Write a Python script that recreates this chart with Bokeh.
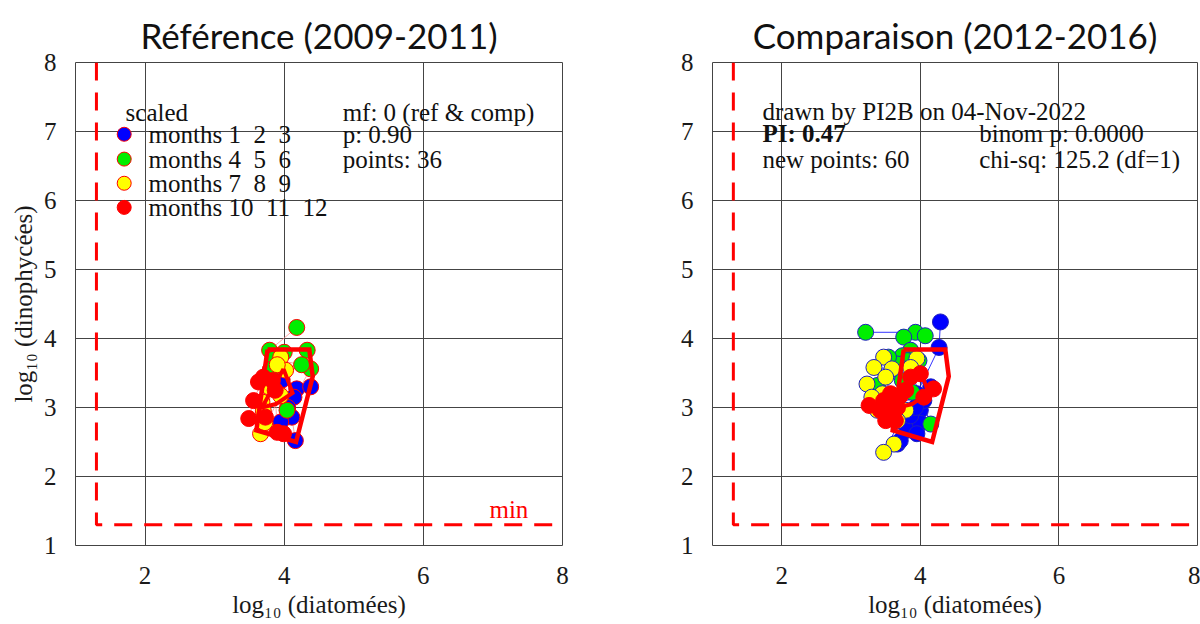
from bokeh.plotting import figure
from bokeh.layouts import row
from bokeh.models import Range1d, FixedTicker
from bokeh.core.properties import value
from bokeh.embed import file_html
from bokeh.resources import INLINE

# ---------------- data ----------------
titles = ["Référence (2009-2011)", "Comparaison (2012-2016)"]
x_label = "log₁₀ (diatomées)"
y_label = "log₁₀ (dinophycées)"
x_ticks = [2, 4, 6, 8]
y_ticks = [1, 2, 3, 4, 5, 6, 7, 8]
min_level = 1.301   # log10(20)
season_labels = ["months 1\u00a0 2\u00a0 3", "months 4\u00a0 5\u00a0 6",
                 "months 7\u00a0 8\u00a0 9", "months 10\u00a0 11\u00a0 12"]
season_colors = ["#0000ff", "#00ee00", "#ffff00", "#ff0000"]

# reference period (2009-2011), 9 points per season
ref_blue_x = [4.18, 4.38, 4.14, 4.11, 4.16, 3.95, 3.90, 4.05, 3.97]
ref_blue_y = [3.27, 3.30, 3.15, 2.86, 2.52, 2.79, 3.58, 3.00, 3.40]
ref_green_x = [4.18, 3.79, 4.33, 4.38, 4.04, 4.00, 3.85, 4.25, 3.80]
ref_green_y = [4.16, 3.83, 3.83, 3.56, 2.96, 3.80, 3.70, 3.62, 3.55]
ref_yellow_x = [3.95, 4.02, 3.95, 3.66, 3.68, 3.78, 3.72, 3.90, 3.70]
ref_yellow_y = [3.73, 3.54, 3.17, 2.62, 3.08, 3.30, 2.78, 3.62, 2.95]
ref_red_x = [3.63, 3.70, 3.56, 3.49, 3.73, 3.99, 3.90, 3.87, 3.83]
ref_red_y = [3.37, 3.44, 3.10, 2.84, 2.86, 2.62, 2.64, 3.25, 3.39]

# comparison period (2012-2016), 15 points per season
cmp_blue_x = [4.29, 4.27, 3.95, 4.00, 3.90, 3.88, 3.67, 4.15, 3.81, 4.00, 4.05, 3.86, 3.95, 3.93, 3.71]
cmp_blue_y = [4.24, 3.87, 3.20, 2.96, 2.81, 2.71, 2.47, 3.30, 2.67, 2.77, 3.10, 2.88, 2.62, 3.00, 2.52]
cmp_green_x = [3.21, 3.93, 4.07, 3.76, 3.86, 3.74, 3.81, 4.15, 3.38, 3.88, 3.67, 3.54, 3.98, 3.62, 3.74]
cmp_green_y = [4.09, 4.09, 4.04, 4.02, 3.83, 3.75, 3.68, 2.76, 3.32, 3.22, 3.63, 3.73, 3.68, 3.10, 3.39]
cmp_yellow_x = [3.47, 3.33, 3.59, 3.23, 3.45, 3.30, 3.95, 3.62, 3.47, 3.79, 3.38, 3.67, 3.50, 3.86, 3.57]
cmp_yellow_y = [3.73, 3.58, 3.56, 3.34, 3.20, 3.15, 3.71, 2.47, 2.35, 2.96, 2.96, 2.81, 3.44, 3.58, 3.00]
cmp_red_x = [3.26, 3.47, 3.57, 3.86, 4.19, 3.71, 3.50, 3.57, 3.67, 4.00, 3.42, 3.79, 3.64, 4.05, 3.52]
cmp_red_y = [3.03, 3.10, 3.20, 3.44, 3.27, 3.17, 2.81, 2.88, 3.00, 3.49, 2.96, 3.25, 2.81, 3.15, 3.05]

# reference envelope ("doughnut"): outer and inner polygons, drawn on both panels
env_outer_x = [3.76, 4.36, 4.41, 4.17, 3.60, 3.76]
env_outer_y = [3.84, 3.84, 3.45, 2.50, 2.67, 3.84]
env_inner_x = [3.99, 4.12, 3.88, 3.68, 3.99]
env_inner_y = [3.56, 3.21, 3.05, 3.00, 3.56]

ref_stats = ["mf: 0 (ref & comp)", "p: 0.90", "points: 36"]
cmp_info = "drawn by PI2B on 04-Nov-2022"
cmp_left = ["PI: 0.47", "new points: 60"]
cmp_right = ["binom p: 0.0000", "chi-sq: 125.2 (df=1)"]

SERIF = "Liberation Serif"
FS = "25px"
GRID = "#444444"
INK = "#111111"


def panel(title, width, bl, br, show_ylabel):
    p = figure(width=width, height=624, x_range=Range1d(1, 8), y_range=Range1d(1, 8),
               output_backend="svg", toolbar_location=None,
               min_border_left=bl, min_border_right=br, min_border_top=62, min_border_bottom=79)
    p.title.text = title
    p.title.align = "center"
    p.title.text_font = "Lato"
    p.title.text_font_size = "35px"
    p.title.text_font_style = "normal"
    p.title.text_color = INK
    p.title.standoff = 13
    p.outline_line_color = GRID
    p.outline_line_width = 1
    p.outline_line_alpha = 1
    p.xgrid.ticker = FixedTicker(ticks=[2, 4, 6])
    p.ygrid.ticker = FixedTicker(ticks=[2, 3, 4, 5, 6, 7])
    p.grid.grid_line_color = GRID
    p.grid.grid_line_width = 1
    p.xaxis.ticker = FixedTicker(ticks=x_ticks)
    p.yaxis.ticker = FixedTicker(ticks=y_ticks)
    for ax in (p.xaxis, p.yaxis):
        ax.axis_line_color = None
        ax.major_tick_line_color = None
        ax.minor_tick_line_color = None
        ax.major_label_text_font = SERIF
        ax.major_label_text_font_size = "25px"
        ax.major_label_text_color = "#1a1a1a"
        ax.axis_label_text_font = SERIF
        ax.axis_label_text_font_size = "25px"
        ax.axis_label_text_font_style = "normal"
        ax.axis_label_text_color = "#1a1a1a"
    p.xaxis.major_label_standoff = 15
    p.yaxis.major_label_standoff = 13
    p.xaxis.axis_label = x_label
    p.xaxis.axis_label_standoff = 4
    if show_ylabel:
        p.yaxis.axis_label = y_label
        p.yaxis.axis_label_standoff = 4
    # detection-limit lines
    p.line([min_level, min_level, 8], [8, min_level, min_level], line_color="#ff0000",
           line_width=3, line_dash="18 12")
    return p


def draw_points(p, xs_list, ys_list, outline, line_col, line_alpha):
    for xs, ys in zip(xs_list, ys_list):
        p.line(xs, ys, line_color=line_col, line_width=1, line_alpha=line_alpha)
    for xs, ys, c in zip(xs_list, ys_list, season_colors):
        p.scatter(xs, ys, size=16, fill_color=c, line_color=outline if c != "#ff0000" else "#ff0000",
                  line_width=1)
    p.line(env_outer_x, env_outer_y, line_color="#ff0000", line_width=4.5, line_join="miter")
    p.line(env_inner_x, env_inner_y, line_color="#ff0000", line_width=4, line_join="miter")


# ---------- left panel ----------
p1 = panel(titles[0], 640, 75, 78, True)
draw_points(p1, [ref_blue_x, ref_green_x, ref_yellow_x, ref_red_x],
            [ref_blue_y, ref_green_y, ref_yellow_y, ref_red_y], "#ff0000", "#ff8080", 0.7)

legend_y = [6.96, 6.60, 6.25, 5.90]
p1.text([1.72], [7.27], text=["scaled"], text_font=value(SERIF), text_font_size=FS,
        text_baseline="middle", text_color=INK)
p1.scatter([1.70] * 4, legend_y, size=14, fill_color=season_colors, line_color="#ff0000", line_width=1)
p1.text([2.05] * 4, legend_y, text=season_labels, text_font=value(SERIF), text_font_size=FS,
        text_baseline="middle", text_color=INK)
p1.text([4.84] * 3, [7.27, 6.95, 6.59], text=ref_stats, text_font=value(SERIF),
        text_font_size=FS, text_baseline="middle", text_color=INK)
p1.text([6.95], [1.52], text=["min"], text_font=value(SERIF), text_font_size=FS,
        text_baseline="middle", text_color="#ff0000")

# ---------- right panel ----------
p2 = panel(titles[1], 560, 72, 3, False)
draw_points(p2, [cmp_blue_x, cmp_green_x, cmp_yellow_x, cmp_red_x],
            [cmp_blue_y, cmp_green_y, cmp_yellow_y, cmp_red_y], "#2020c0", "#0000ff", 0.8)
p2.text([1.72], [7.29], text=[cmp_info], text_font=value(SERIF), text_font_size=FS,
        text_baseline="middle", text_color=INK)
p2.text([1.72], [6.97], text=[cmp_left[0]], text_font=value(SERIF), text_font_size=FS,
        text_font_style="bold", text_baseline="middle", text_color=INK)
p2.text([1.72], [6.59], text=[cmp_left[1]], text_font=value(SERIF), text_font_size=FS,
        text_baseline="middle", text_color=INK)
p2.text([4.85] * 2, [6.97, 6.59], text=cmp_right, text_font=value(SERIF), text_font_size=FS,
        text_baseline="middle", text_color=INK)

layout = row(p1, p2)
open("out.html", "w").write(file_html(layout, INLINE))
